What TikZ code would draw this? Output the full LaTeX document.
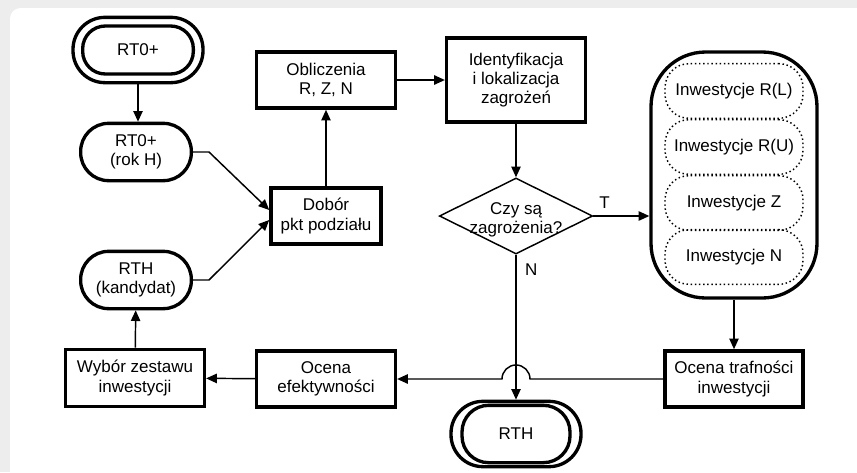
\documentclass[tikz,border=0pt]{standalone}
\usepackage{fontspec}
\setmainfont{Liberation Sans}
\usepackage{tikz}
\usetikzlibrary{calc, arrows.meta, shapes.geometric}

\tikzset{
  box/.style={draw, line width=2.7pt, align=center, inner sep=2pt},
  term/.style={draw, line width=2.5pt, rounded corners=21pt, align=center, minimum width=83pt, minimum height=43pt},
  dbl/.style={draw, line width=2.5pt, rounded corners=24pt, minimum width=97.5pt, minimum height=49pt},
  inv/.style={draw, line width=1.1pt, dotted, rounded corners=18pt, minimum width=103.5pt, minimum height=41pt},
  conn/.style={line width=1.1pt},
  arr/.style={conn, -{Triangle[length=8pt, width=7pt]}}
}

\begin{document}
\begin{tikzpicture}[x=0.75pt, y=-0.75pt, font=\fontsize{12.75}{14.5}\selectfont]
\def\cBack{black!7}
\def\cLine{black}
\useasboundingbox (0,0) rectangle (857,472);
\fill[\cBack] (0,0) rectangle (857,472);
\fill[white] (857,472) -- (10,472) [rounded corners=8pt] -- (10,8) [sharp corners] -- (857,8) -- cycle;

% left column
\node[dbl] (start) at (138,50) {};
\node[term, minimum width=83pt, minimum height=36pt, rounded corners=17pt] (startin) at (138,50) {RT0+};
\node[term] (rok) at (136,152) {RT0+\\(rok H)};
\node[term] (kand) at (136,280) {RTH\\(kandydat)};
\node[box, minimum width=104pt, minimum height=42.75pt] (wyb) at (135,378) {Wybór zestawu\\inwestycji};

% middle column
\node[box, minimum width=104pt, minimum height=42pt] (obl) at (326,80) {Obliczenia\\R, Z, N};
\node[box, minimum width=82.5pt, minimum height=42pt] (dob) at (326,216) {Dobór\\pkt podziału};
\node[box, minimum width=104pt, minimum height=42pt] (ef) at (326,379) {Ocena\\efektywności};

% decision column
\node[box, minimum width=104pt, minimum height=63pt] (ident) at (516,80) {Identyfikacja\\i lokalizacja\\zagrożeń};
\node[draw, line width=1.1pt, diamond, aspect=2, inner sep=0pt, minimum width=115pt, minimum height=57pt, align=center] (dec) at (516,216) {};
\node[align=center] (declbl) at (516,220) {Czy są\\zagrożenia?};
\node[dbl] (end) at (516,434) {};
\node[term, minimum width=81pt, minimum height=43pt, rounded corners=20pt] (endin) at (516,434) {RTH};

% investments
\node[draw, line width=2.5pt, rounded corners=41pt, minimum width=124.5pt, minimum height=184.5pt] (all) at (734,175) {};
\node[inv] (rl) at (734,91) {Inwestycje R(L)};
\node[inv] (ru) at (734,147) {Inwestycje R(U)};
\node[inv] (iz) at (734,203) {Inwestycje Z};
\node[inv] (in) at (734,257) {Inwestycje N};
\node[box, minimum width=103.5pt, minimum height=42pt] (traf) at (734,379) {Ocena trafności\\inwestycji};

% connectors
\draw[arr] (start) -- (startin |- rok.north);
\draw[arr] (rok.east) -- ++(16,0) -- ([yshift=4.5pt]dob.west);
\draw[arr] (kand.east) -- ++(16,0) -- ([yshift=-3pt]dob.west);
\draw[arr] (dob) -- (obl);
\draw[arr] (obl) -- (ident);
\draw[arr] (ident) -- (dec);
\draw[arr] (dec.east) -- node[above, pos=0.2, yshift=2pt] {T} (all.west |- dec.east);
\draw[arr] (all) -- (traf);
\coordinate (jmp) at (dec |- ef);
\draw[arr] (traf.west) -- ([xshift=10.5pt]jmp) arc[start angle=0, end angle=180, radius=10.5pt] -- (ef.east);
\draw[arr] (dec.south) -- node[right, pos=0.1, xshift=3pt] {N} (end.north);
\draw[arr] (ef) -- (wyb);
\draw[arr] (wyb) -- (kand);
\end{tikzpicture}
\end{document}
